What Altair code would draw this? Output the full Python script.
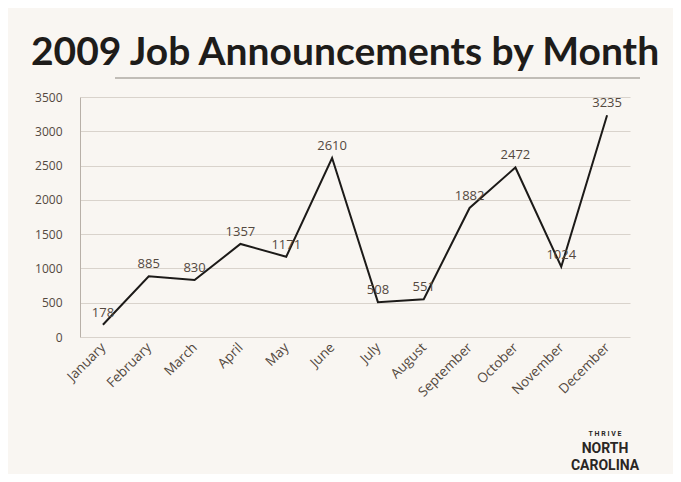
import altair as alt
import pandas as pd

months = ["January", "February", "March", "April", "May", "June", "July",
          "August", "September", "October", "November", "December"]
values = [178, 885, 830, 1357, 1171, 2610, 508, 551, 1882, 2472, 1024, 3235]
title_text = "2009 Job Announcements by Month"

df = pd.DataFrame({"month": months, "value": values})

FONT = "Open Sans"
TXT = "#54493f"

x_enc = alt.X("month:N", sort=months, title=None,
              scale=alt.Scale(type="point", padding=0.5),
              axis=alt.Axis(labelAngle=-45, labelAlign="right", labelBaseline="middle",
                            labelFontSize=13.5, labelColor=TXT, labelFont=FONT,
                            ticks=False, domain=False, labelPadding=8, grid=False))
y_enc = alt.Y("value:Q", title=None,
              scale=alt.Scale(domain=[0, 3500], nice=False),
              axis=alt.Axis(values=list(range(0, 3501, 500)), labelFontSize=12,
                            labelColor=TXT, labelFont=FONT, ticks=False, format="d",
                            labelOverlap=False, tickCount=8,
                            domain=True, domainColor="#b8b0a8", gridColor="#d9d3cc",
                            labelPadding=18))

base = alt.Chart(df)
line = base.mark_line(color="#1c1a18", strokeWidth=2).encode(x=x_enc, y=y_enc)
labels = base.mark_text(dy=-12, fontSize=13, font=FONT, color=TXT).encode(
    x=alt.X("month:N", sort=months), y="value:Q", text="value:Q")

title = alt.Chart(pd.DataFrame({"t": [title_text]})).mark_text(
    fontSize=39, fontWeight="bold", font="Lato", color="#1e1c1a", align="center", baseline="middle"
).encode(x=alt.value(265), y=alt.value(-44), text="t:N")

rule = alt.Chart(pd.DataFrame({"t": [1]})).mark_rule(color="#8a837c", strokeWidth=1.2).encode(
    x=alt.value(35), x2=alt.value(560), y=alt.value(-19))

logo_df = pd.DataFrame({
    "t": ["T  H  R  I  V  E", "NORTH", "CAROLINA"],
    "yy": [337, 352, 369],
    "fs": [7, 14, 14],
})
logo = alt.Chart(logo_df).mark_text(font="Roboto", fontWeight="bold", color="#2a2624",
                                    align="center", baseline="middle").encode(
    x=alt.value(525), y=alt.Y("yy:Q", scale=None), text="t:N",
    size=alt.Size("fs:Q", scale=None, legend=None))

chart = alt.layer(line, labels, title, rule, logo).properties(
    width=550, height=240, background="#f9f6f2",
    padding={"left": 72, "top": 89, "right": 43, "bottom": 137},
    autosize=alt.AutoSizeParams(type="none"),
).configure_view(stroke=None)

chart.save("out.html", embed_options={"renderer": "svg", "actions": False})
